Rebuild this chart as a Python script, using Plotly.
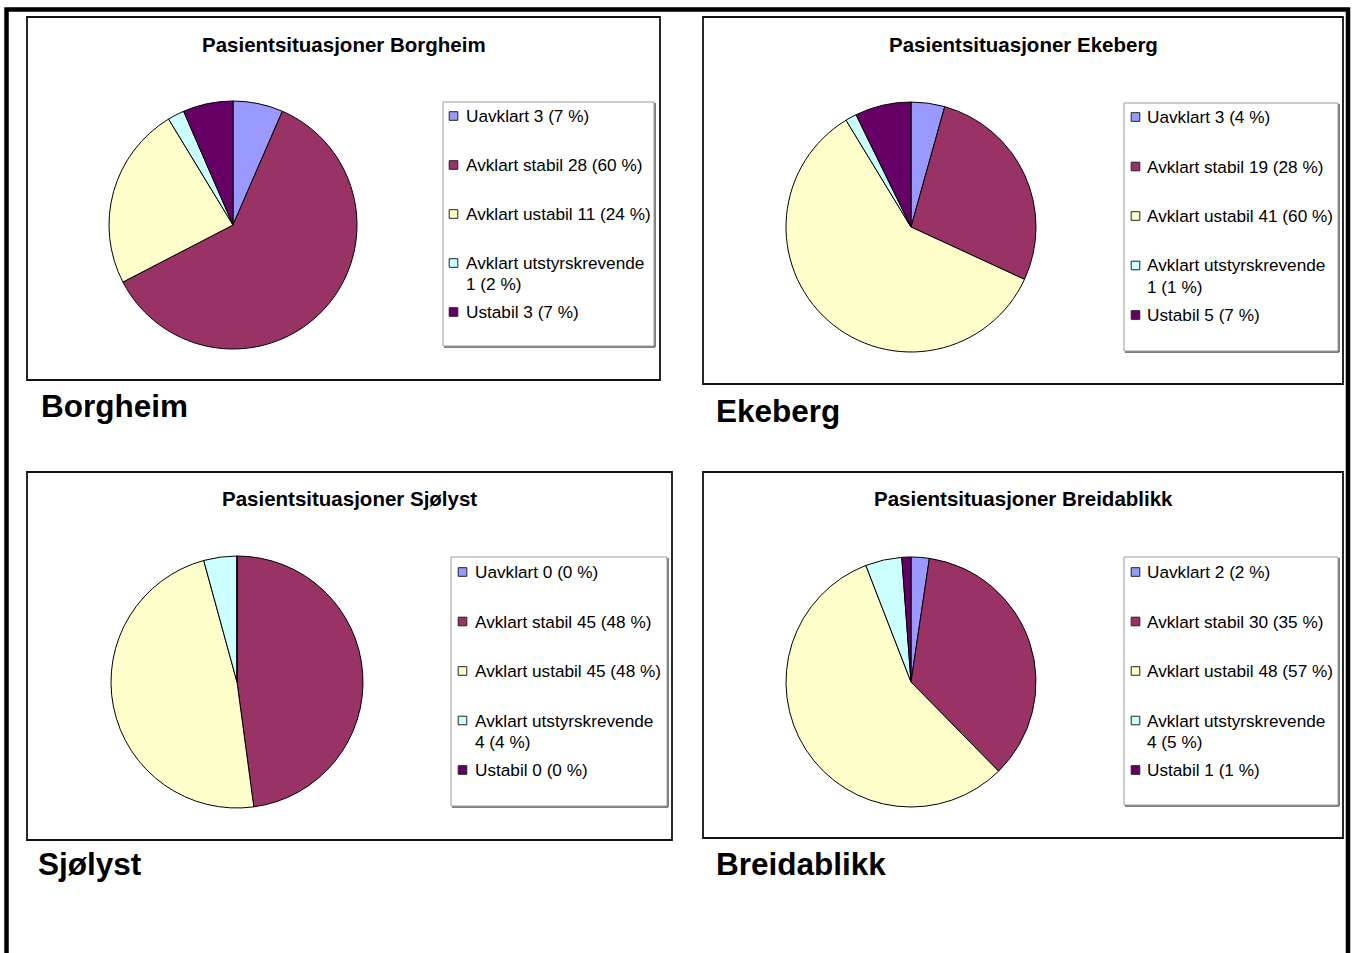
import plotly.graph_objects as go

W, H = 1356, 953

# ---- data ----
categories = ["Uavklart", "Avklart stabil", "Avklart ustabil",
              "Avklart utstyrskrevende", "Ustabil"]
sites = ["Borgheim", "Ekeberg", "Sjølyst", "Breidablikk"]
borgheim_counts = [3, 28, 11, 1, 3]
borgheim_pct = [7, 60, 24, 2, 7]
ekeberg_counts = [3, 19, 41, 1, 5]
ekeberg_pct = [4, 28, 60, 1, 7]
sjolyst_counts = [0, 45, 45, 4, 0]
sjolyst_pct = [0, 48, 48, 4, 0]
breidablikk_counts = [2, 30, 48, 4, 1]
breidablikk_pct = [2, 35, 57, 5, 1]

counts = [borgheim_counts, ekeberg_counts, sjolyst_counts, breidablikk_counts]
pcts = [borgheim_pct, ekeberg_pct, sjolyst_pct, breidablikk_pct]

# ---- styles / layout (pixel positions) ----
colors = ["#9999FF", "#993366", "#FFFFCC", "#CCFFFF", "#660066"]
FONT = "Liberation Sans, Arial, sans-serif"

panels = [
    dict(box=(27, 17, 660, 380), leg=(443, 102, 654, 346), c=(233, 225), r=124,
         title=(344, 44), row0=116, step=49.0, sw=453.5, tx=464, lab=(39, 406)),
    dict(box=(703, 17, 1343, 384), leg=(1124, 103, 1338, 351), c=(911, 227), r=125,
         title=(1023, 44), row0=117, step=49.5, sw=1135.5, tx=1145, lab=(714, 411)),
    dict(box=(27, 472, 672, 840), leg=(451, 557, 667, 806), c=(237, 682), r=126,
         title=(350, 498), row0=572, step=49.5, sw=462.5, tx=473, lab=(36, 864)),
    dict(box=(703, 472, 1343, 838), leg=(1124, 557, 1338, 805), c=(911, 682), r=125,
         title=(1023, 498), row0=572, step=49.5, sw=1135.5, tx=1145, lab=(714, 864)),
]


def X(px):
    return px / W


def Y(py):
    return 1 - py / H


fig = go.Figure()
shapes = []
annotations = []

# outer page border
shapes.append(dict(type="rect", xref="paper", yref="paper",
                   x0=X(6.5), x1=X(1348), y0=Y(9.5), y1=Y(1000),
                   line=dict(color="black", width=4.5), fillcolor="rgba(0,0,0,0)"))

for i, p in enumerate(panels):
    cx, cy = p["c"]
    r = p["r"]
    fig.add_trace(go.Pie(
        labels=categories, values=counts[i], sort=False,
        direction="clockwise", rotation=0,
        marker=dict(colors=colors, line=dict(color="black", width=1)),
        textinfo="none", hoverinfo="label+value+percent", showlegend=False,
        domain=dict(x=[X(cx - r), X(cx + r)], y=[Y(cy + r), Y(cy - r)]),
    ))

    bx0, by0, bx1, by1 = p["box"]
    shapes.append(dict(type="rect", xref="paper", yref="paper",
                       x0=X(bx0), x1=X(bx1), y0=Y(by1), y1=Y(by0),
                       line=dict(color="#111111", width=1.8),
                       fillcolor="rgba(0,0,0,0)"))

    lx0, ly0, lx1, ly1 = p["leg"]
    shapes.append(dict(type="line", xref="paper", yref="paper",
                       x0=X(lx1 + 1), x1=X(lx1 + 1), y0=Y(ly0 + 1), y1=Y(ly1 + 1),
                       line=dict(color="#555555", width=1.5)))
    shapes.append(dict(type="line", xref="paper", yref="paper",
                       x0=X(lx0 + 1), x1=X(lx1 + 1), y0=Y(ly1 + 1), y1=Y(ly1 + 1),
                       line=dict(color="#555555", width=1.5)))
    shapes.append(dict(type="rect", xref="paper", yref="paper",
                       x0=X(lx0), x1=X(lx1), y0=Y(ly1), y1=Y(ly0),
                       line=dict(color="#9a9a9a", width=1),
                       fillcolor="rgba(0,0,0,0)"))

    annotations.append(dict(xref="paper", yref="paper", x=X(p["title"][0]), y=Y(p["title"][1]),
                            text="<b>Pasientsituasjoner " + sites[i] + "</b>",
                            showarrow=False, xanchor="center", yanchor="middle",
                            font=dict(family=FONT, size=20.5, color="black")))
    annotations.append(dict(xref="paper", yref="paper", x=X(p["lab"][0]), y=Y(p["lab"][1]),
                            text="<b>" + sites[i] + "</b>",
                            showarrow=False, xanchor="left", yanchor="middle",
                            font=dict(family=FONT, size=31.5, color="black")))

    for k, name in enumerate(categories):
        yc = p["row0"] + k * p["step"]
        s = 4.3
        shapes.append(dict(type="rect", xref="paper", yref="paper",
                           x0=X(p["sw"] - s), x1=X(p["sw"] + s),
                           y0=Y(yc + s), y1=Y(yc - s),
                           line=dict(color="#222222", width=1), fillcolor=colors[k]))
        val = f"{counts[i][k]} ({pcts[i][k]} %)"
        if len(name) > 20:
            lines = [name, val]
        else:
            lines = [name + " " + val]
        for j, t in enumerate(lines):
            annotations.append(dict(xref="paper", yref="paper",
                                    x=X(p["tx"]), y=Y(yc + j * 21),
                                    text=t, showarrow=False,
                                    xanchor="left", yanchor="middle",
                                    font=dict(family=FONT, size=17.2, color="black")))

fig.update_layout(
    width=W, height=H,
    margin=dict(l=0, r=0, t=0, b=0),
    paper_bgcolor="white", plot_bgcolor="white",
    shapes=shapes, annotations=annotations,
    showlegend=False,
)

fig.write_html("out.html")
